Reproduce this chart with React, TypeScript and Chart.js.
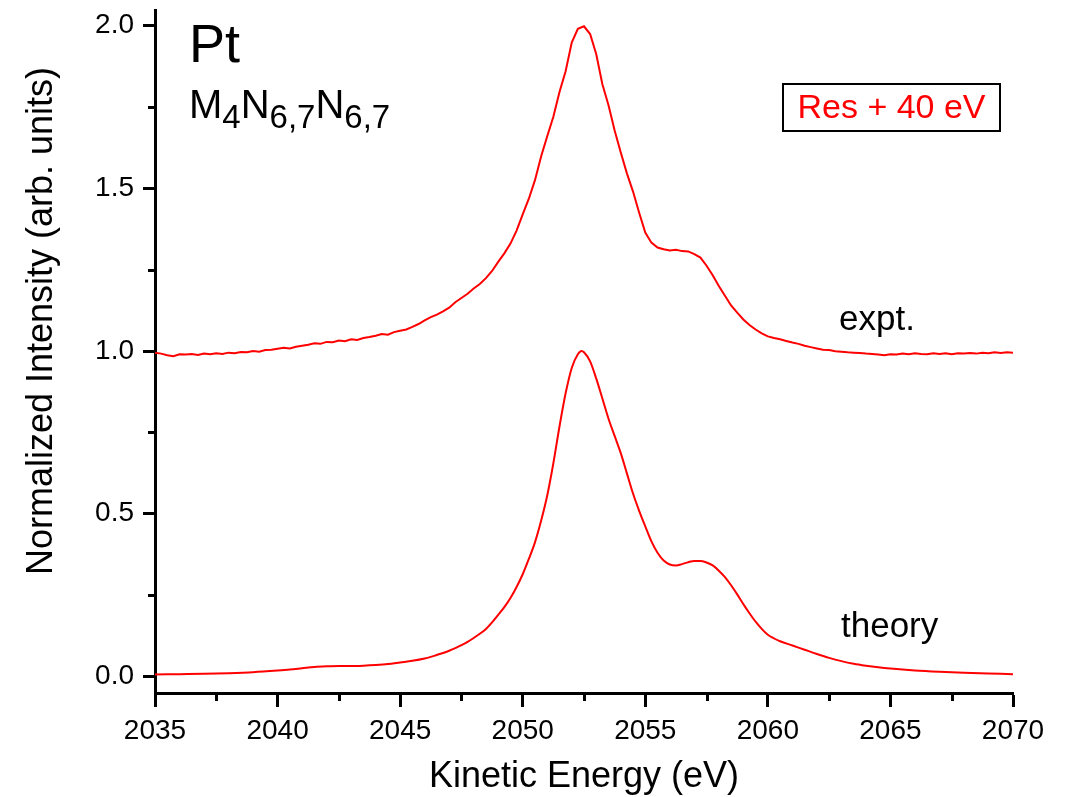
import React, { useEffect, useRef } from 'react';
import { Chart, registerables } from 'chart.js';

Chart.register(...registerables);

// Measured spectrum (offset by +1), sampled every 0.25 eV from 2035 eV
const EXPT_START = 2035;
const EXPT_STEP = 0.25;
const intensityExpt = [
  0.995, 0.992, 0.987, 0.984, 0.990, 0.989, 0.991, 0.988, 0.992, 0.990,
  0.993, 0.991, 0.995, 0.993, 0.997, 0.996, 1.000, 0.998, 1.003, 1.004,
  1.007, 1.010, 1.008, 1.013, 1.016, 1.019, 1.024, 1.022, 1.028, 1.027,
  1.032, 1.030, 1.036, 1.034, 1.040, 1.043, 1.047, 1.052, 1.050, 1.058,
  1.062, 1.066, 1.074, 1.083, 1.094, 1.104, 1.112, 1.122, 1.133, 1.150,
  1.163, 1.176, 1.192, 1.206, 1.224, 1.246, 1.274, 1.300, 1.330, 1.370,
  1.420, 1.468, 1.525, 1.598, 1.660, 1.720, 1.796, 1.860, 1.948, 1.990,
  1.998, 1.974, 1.912, 1.820, 1.755, 1.678, 1.610, 1.546, 1.490, 1.425,
  1.364, 1.333, 1.318, 1.313, 1.309, 1.311, 1.307, 1.306, 1.298, 1.287,
  1.262, 1.233, 1.200, 1.170, 1.140, 1.118, 1.097, 1.080, 1.066, 1.054,
  1.045, 1.040, 1.036, 1.031, 1.026, 1.022, 1.016, 1.012, 1.008, 1.004,
  1.003, 0.999, 0.998, 0.996, 0.995, 0.994, 0.992, 0.991, 0.989, 0.987,
  0.990, 0.989, 0.992, 0.990, 0.993, 0.991, 0.990, 0.993, 0.991, 0.993,
  0.990, 0.993, 0.992, 0.994, 0.992, 0.995, 0.993, 0.996, 0.994, 0.996,
  0.995,
];

// Calculated spectrum
const energyTheory = [
  2035, 2036, 2037, 2038, 2039, 2040, 2040.5, 2041, 2041.5, 2042,
  2042.5, 2043, 2043.5, 2044, 2044.5, 2045, 2045.5, 2046, 2046.25, 2046.5,
  2046.75, 2047, 2047.25, 2047.5, 2047.75, 2048, 2048.25, 2048.5, 2048.75, 2049,
  2049.25, 2049.5, 2049.75, 2050, 2050.25, 2050.5, 2050.75, 2051, 2051.25, 2051.5,
  2051.75, 2052, 2052.25, 2052.4, 2052.5, 2052.75, 2053, 2053.25, 2053.5, 2053.75,
  2054, 2054.25, 2054.5, 2054.75, 2055, 2055.25, 2055.5, 2055.75, 2056, 2056.25,
  2056.5, 2056.75, 2057, 2057.25, 2057.5, 2057.75, 2058, 2058.25, 2058.5, 2058.75,
  2059, 2059.25, 2059.5, 2059.75, 2060, 2060.5, 2061, 2061.5, 2062, 2062.5,
  2063, 2063.5, 2064, 2064.5, 2065, 2066, 2067, 2068, 2069, 2070,
];
const intensityTheory = [
  0.006, 0.007, 0.008, 0.010, 0.013, 0.018, 0.021, 0.025, 0.029, 0.031,
  0.032, 0.032, 0.033, 0.035, 0.038, 0.043, 0.048, 0.055, 0.060, 0.066,
  0.072, 0.079, 0.087, 0.096, 0.106, 0.118, 0.131, 0.146, 0.166, 0.189,
  0.213, 0.241, 0.275, 0.314, 0.361, 0.412, 0.478, 0.556, 0.655, 0.768,
  0.870, 0.948, 0.990, 1.000, 0.996, 0.968, 0.915, 0.854, 0.792, 0.739,
  0.686, 0.624, 0.562, 0.509, 0.461, 0.415, 0.380, 0.356, 0.344, 0.341,
  0.345, 0.351, 0.355, 0.355, 0.350, 0.341, 0.325, 0.305, 0.280, 0.252,
  0.222, 0.194, 0.168, 0.146, 0.128, 0.108, 0.095, 0.082, 0.069, 0.057,
  0.047, 0.039, 0.033, 0.028, 0.024, 0.018, 0.014, 0.011, 0.009, 0.007,
];

const xMinorTicks = [2037.5, 2042.5, 2047.5, 2052.5, 2057.5, 2062.5, 2067.5];
const yMinorTicks = [0.25, 0.75, 1.25, 1.75];

const FONT = '"Liberation Sans", Arial, Helvetica, sans-serif';
const RED = '#ff0000';

const minorTickPlugin = {
  id: 'minorTicks',
  afterDraw(chart: any) {
    const { ctx, chartArea, scales } = chart;
    ctx.save();
    ctx.strokeStyle = '#000';
    ctx.lineWidth = 3;
    for (const v of xMinorTicks) {
      const px = Math.round(scales.x.getPixelForValue(v)) + 0.5;
      ctx.beginPath();
      ctx.moveTo(px, chartArea.bottom);
      ctx.lineTo(px, chartArea.bottom + 8);
      ctx.stroke();
    }
    for (const v of yMinorTicks) {
      const py = Math.round(scales.y.getPixelForValue(v)) + 0.5;
      ctx.beginPath();
      ctx.moveTo(chartArea.left, py);
      ctx.lineTo(chartArea.left - 7, py);
      ctx.stroke();
    }
    ctx.restore();
  },
};

const labelPlugin = {
  id: 'labels',
  afterDraw(chart: any) {
    const { ctx, chartArea } = chart;
    ctx.save();
    ctx.fillStyle = '#000';
    ctx.textBaseline = 'alphabetic';

    // axis titles
    ctx.font = `36px ${FONT}`;
    ctx.textAlign = 'center';
    ctx.fillText('Kinetic Energy (eV)', (chartArea.left + chartArea.right) / 2, 787);
    ctx.save();
    ctx.translate(52, 321);
    ctx.rotate(-Math.PI / 2);
    ctx.fillText('Normalized Intensity (arb. units)', 0, 0);
    ctx.restore();

    // element and transition
    ctx.textAlign = 'left';
    ctx.font = `54px ${FONT}`;
    ctx.fillText('Pt', 189, 62);
    const parts: [string, boolean][] = [
      ['M', false], ['4', true], ['N', false], ['6,7', true], ['N', false], ['6,7', true],
    ];
    let x = 189;
    for (const [t, sub] of parts) {
      ctx.font = sub ? `33px ${FONT}` : `40px ${FONT}`;
      ctx.fillText(t, x, sub ? 128 : 118);
      x += ctx.measureText(t).width;
    }

    // curve labels
    ctx.font = `35px ${FONT}`;
    ctx.fillText('expt.', 839, 330);
    ctx.fillText('theory', 841, 637);

    // condition box
    ctx.strokeStyle = '#000';
    ctx.lineWidth = 2;
    ctx.strokeRect(783, 84, 217, 47);
    ctx.fillStyle = RED;
    ctx.font = `34px ${FONT}`;
    ctx.textAlign = 'center';
    ctx.fillText('Res + 40 eV', 891.5, 118);
    ctx.restore();
  },
};

export default function App() {
  const canvasRef = useRef<HTMLCanvasElement | null>(null);

  useEffect(() => {
    const canvas = canvasRef.current;
    if (!canvas) return;
    const exptData = intensityExpt.map((y, i) => ({ x: EXPT_START + i * EXPT_STEP, y }));
    const theoryData = intensityTheory.map((y, i) => ({ x: energyTheory[i], y }));

    const chart = new Chart(canvas, {
      type: 'line',
      data: {
        datasets: [
          {
            label: 'expt.',
            data: exptData,
            borderColor: RED,
            borderWidth: 2,
            pointRadius: 0,
            tension: 0,
          },
          {
            label: 'theory',
            data: theoryData,
            borderColor: RED,
            borderWidth: 2,
            pointRadius: 0,
            cubicInterpolationMode: 'monotone',
          },
        ],
      },
      options: {
        animation: false,
        responsive: false,
        maintainAspectRatio: false,
        layout: { padding: { top: 10, right: 55, bottom: 0, left: 0 } },
        plugins: {
          legend: { display: false },
          tooltip: { enabled: false },
          title: { display: false },
        },
        scales: {
          x: {
            type: 'linear',
            min: 2035,
            max: 2070,
            afterFit(scale: any) {
              scale.height = 104;
              scale.paddingLeft = 0;
              scale.paddingRight = 0;
            },
            ticks: {
              stepSize: 5,
              color: '#000',
              font: { family: FONT, size: 28 },
              padding: 7,
              maxRotation: 0,
              callback: (v: any) => String(v),
            },
            grid: {
              drawOnChartArea: false,
              drawTicks: true,
              tickLength: 14,
              tickWidth: 3,
              tickColor: '#000',
            },
            border: { display: true, color: '#000', width: 3 },
          },
          y: {
            type: 'linear',
            min: -0.051,
            max: 2.048,
            afterFit(scale: any) {
              scale.width = 155;
              scale.paddingTop = 0;
              scale.paddingBottom = 0;
            },
            ticks: {
              stepSize: 0.5,
              includeBounds: false,
              color: '#000',
              font: { family: FONT, size: 28 },
              padding: 9,
              callback: (v: any) => Number(v).toFixed(1),
            },
            grid: {
              drawOnChartArea: false,
              drawTicks: true,
              tickLength: 12,
              tickWidth: 3,
              tickColor: '#000',
            },
            border: { display: true, color: '#000', width: 3 },
          },
        },
      },
      plugins: [minorTickPlugin, labelPlugin],
    } as any);

    return () => chart.destroy();
  }, []);

  return (
    <div style={{ position: 'fixed', left: 0, top: 0, width: 1068, height: 797, background: '#fff' }}>
      <canvas ref={canvasRef} width={1068} height={797} />
    </div>
  );
}
